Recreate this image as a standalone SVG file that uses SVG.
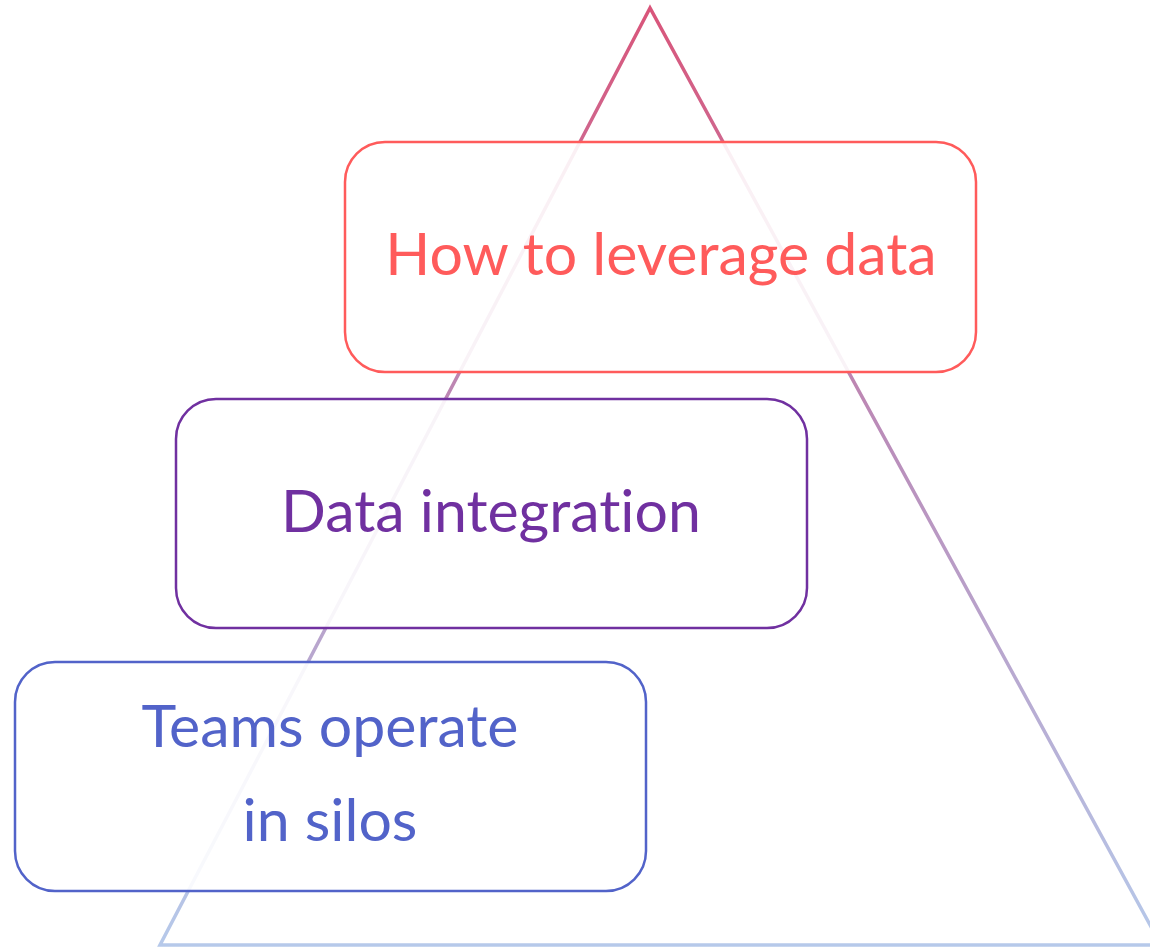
<svg xmlns="http://www.w3.org/2000/svg" width="1150" height="949" viewBox="0 0 1150 949">
  <defs>
    <linearGradient id="pyramidStroke" gradientUnits="userSpaceOnUse" x1="0" y1="8" x2="0" y2="945">
      <stop offset="0" stop-color="#d9557a"/>
      <stop offset="0.45" stop-color="#ba8cb9"/>
      <stop offset="1" stop-color="#b6c9ea"/>
    </linearGradient>
  </defs>
  <style>
    .box { fill: #ffffff; fill-opacity: 0.9; stroke-width: 2.5; }
    .label { font-family: Lato, "Open Sans", sans-serif; font-size: 59px; text-anchor: middle; font-variant-ligatures: none; }
  </style>
  <rect width="1150" height="949" fill="#ffffff"/>

  <!-- background pyramid -->
  <g id="pyramid">
    <polygon points="650,8 160,945 1161,945" fill="none" stroke="url(#pyramidStroke)" stroke-width="3.5" stroke-linejoin="miter"/>
  </g>

  <!-- top tier -->
  <g id="tier-leverage">
    <rect class="box" x="345" y="142" width="631" height="230" rx="40" stroke="#ff5b5b"/>
    <text class="label" x="661" y="275" fill="#ff5b5b">How to leverage data</text>
  </g>

  <!-- middle tier -->
  <g id="tier-integration">
    <rect class="box" x="176" y="399" width="631" height="229" rx="40" stroke="#7030a0"/>
    <text class="label" x="491" y="532" fill="#7030a0">Data integration</text>
  </g>

  <!-- bottom tier -->
  <g id="tier-silos">
    <rect class="box" x="15" y="662" width="631" height="229" rx="40" stroke="#5263c9"/>
    <text class="label" x="330" y="747" fill="#5263c9">Teams operate</text>
    <text class="label" x="330" y="841" fill="#5263c9">in silos</text>
  </g>
</svg>
